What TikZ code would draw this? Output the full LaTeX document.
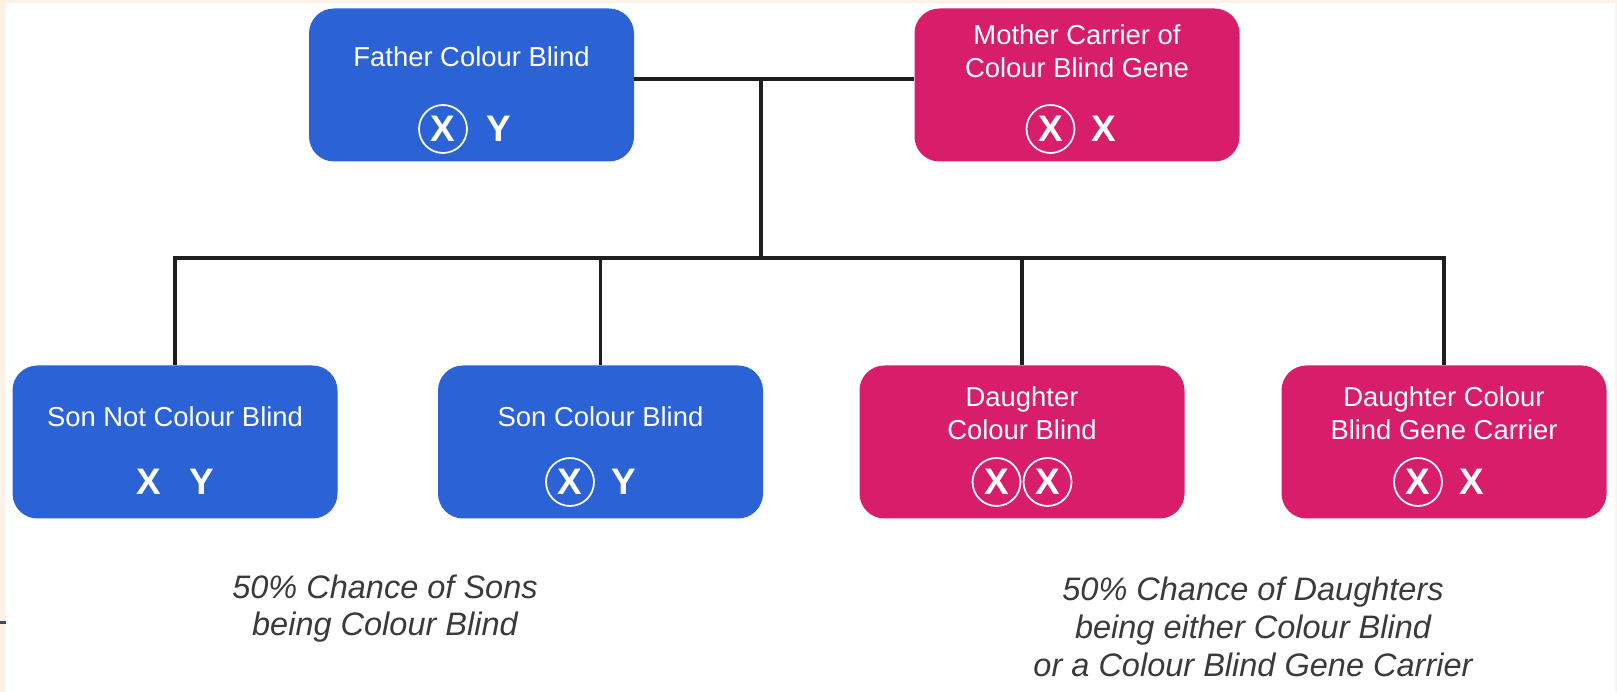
\documentclass[tikz,border=0pt]{standalone}
\usepackage{fontspec}
\setmainfont{Liberation Sans}
\definecolor{MaleBlue}{HTML}{2B63D6}
\definecolor{FemalePink}{HTML}{D81E6B}
\definecolor{Cream}{HTML}{FCF3E6}
\definecolor{NoteGrey}{HTML}{3A3A3A}
\definecolor{LineGrey}{HTML}{1E1E1E}
\definecolor{EdgeSlate}{HTML}{3B4B63}

\begin{document}
\begin{tikzpicture}[
    box/.style={rounded corners=0.5cm, minimum width=6.5cm, minimum height=3.06cm},
    male/.style={box, fill=MaleBlue},
    female/.style={box, fill=FemalePink},
    boxtext/.style={text=white, font=\fontsize{15.6}{19}\selectfont, align=center, inner sep=0pt},
    gene/.style={text=white, font=\fontsize{21}{21}\selectfont\bfseries, inner sep=0pt},
    ringed/.style={gene, circle, draw=white, line width=1pt, minimum size=0.96cm},
    note/.style={text=NoteGrey, font=\fontsize{18.5}{21.5}\selectfont\itshape, align=center},
    link/.style={line width=2.2pt, draw=LineGrey}
]
    % Page background with cream edges
    \fill[Cream] (0,0) rectangle (32.34,13.84);
    \fill[white] (0.12,0) rectangle (32.3,13.78);
    \fill[EdgeSlate] (0,1.36) rectangle (0.12,1.42);
    \useasboundingbox (0,0) rectangle (32.34,13.84);

    % Parents
    \node[male] (father) at (9.43,12.14) {};
    \node[boxtext] (fathertxt) at (9.43,12.70) {Father Colour Blind};
    \node[ringed] (fatherx) at (8.86,11.26) {X};
    \node[gene] (fathery) at (9.98,11.26) {Y};

    \node[female] (mother) at (21.54,12.14) {};
    \node[boxtext] (mothertxt) at (21.54,12.82) {Mother Carrier of\\Colour Blind Gene};
    \node[ringed] (motherx) at (21.01,11.26) {X};
    \node[gene] (mothery) at (22.07,11.26) {X};

    % Children
    \node[male] (sonA) at (3.50,5.00) {};
    \node[boxtext] (sonAtxt) at (3.50,5.50) {Son Not Colour Blind};
    \node[gene] (sonAx) at (2.98,4.20) {X};
    \node[gene] (sonAy) at (4.04,4.20) {Y};

    \node[male] (sonB) at (12.01,5.00) {};
    \node[boxtext] (sonBtxt) at (12.01,5.50) {Son Colour Blind};
    \node[ringed] (sonBx) at (11.40,4.20) {X};
    \node[gene] (sonBy) at (12.48,4.20) {Y};

    \node[female] (dauA) at (20.44,5.00) {};
    \node[boxtext] (dauAtxt) at (20.44,5.57) {Daughter\\Colour Blind};
    \node[ringed] (dauAx) at (19.93,4.20) {X};
    \node[ringed] (dauAy) at (20.95,4.20) {X};

    \node[female] (dauB) at (28.88,5.00) {};
    \node[boxtext] (dauBtxt) at (28.88,5.57) {Daughter Colour\\Blind Gene Carrier};
    \node[ringed] (dauBx) at (28.36,4.20) {X};
    \node[gene] (dauBy) at (29.44,4.20) {X};

    % Connectors
    \coordinate (wed) at (15.22,12.26);
    \coordinate (split) at (15.22,8.68);
    \draw[link] (father.east |- wed) -- (mother.west |- wed);
    \draw[link] (wed) -- (split);
    \foreach \kid in {sonA,sonB,dauA,dauB}
        \draw[link] (split) -| (\kid.north);

    % Notes
    \node[note] (sonnote) at (7.70,1.67) {50\% Chance of Sons\\being Colour Blind};
    \node[note] (daunote) at (25.06,1.30) {50\% Chance of Daughters\\being either Colour Blind\\or a Colour Blind Gene Carrier};
\end{tikzpicture}
\end{document}
